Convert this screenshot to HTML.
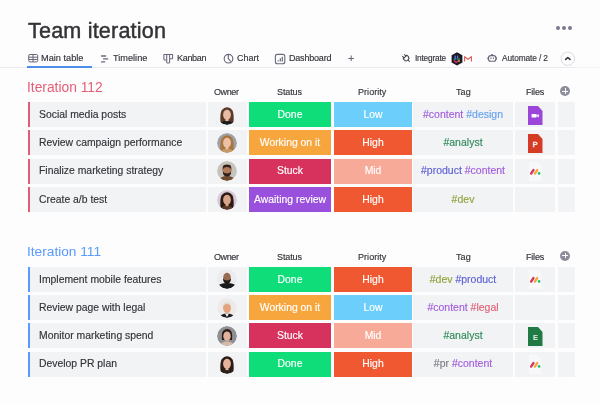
<!DOCTYPE html>
<html><head><meta charset="utf-8"><style>
*{margin:0;padding:0;box-sizing:border-box}
html,body{width:600px;height:404px;overflow:hidden;background:#fdfdfe;font-family:"Liberation Sans",sans-serif;color:#323338}
.a{position:absolute;display:block}
.t{position:absolute;line-height:1;white-space:nowrap;-webkit-text-stroke:0.15px currentColor;will-change:transform}
.dots{position:absolute;top:26px;width:4.2px;height:4.2px;border-radius:50%;background:#7b7990}
.sep{position:absolute;left:0;top:67px;width:576px;height:1px;background:#e9ebf0}
.ul{position:absolute;left:27px;top:66px;width:65px;height:2px;background:#4b8fe8}
.plus{position:absolute;left:560.2px;width:10.2px;height:10.2px;border-radius:50%;background:#8e8d9b}
.plus:before{content:"";position:absolute;left:2.3px;top:4.55px;width:5.6px;height:1.1px;background:#fff}
.plus:after{content:"";position:absolute;left:4.55px;top:2.3px;width:1.1px;height:5.6px;background:#fff}
.c{position:absolute;height:25px;background:#f2f3f5}
.bar{position:absolute;left:28.2px;width:2.3px;height:25px}
.av{position:absolute;left:216.8px;width:20px;height:20px;border-radius:50%;overflow:hidden}
.av svg{display:block}
</style></head><body><div id="w" style="position:absolute;left:0;top:0;width:600px;height:404px;filter:blur(0.25px)">
<div class="t" style="left:27.9px;top:19.72px;font-size:21.6px;color:#333336;-webkit-text-stroke:0.45px currentColor;letter-spacing:0.18px">Team iteration</div>
<div class="dots" style="left:556px"></div><div class="dots" style="left:562px"></div><div class="dots" style="left:567.8px"></div>
<div class="sep"></div><div class="sep" style="left:576px;width:24px;background:#f1f2f6"></div><div class="ul"></div>

<svg class="a" style="left:27px;top:53px" width="12" height="10" viewBox="0 0 12 10" fill="none" stroke="#676879" stroke-width="1">
 <rect x="1.7" y="1.5" width="9" height="7.4" rx="1.3"/><line x1="1.7" y1="4.2" x2="10.7" y2="4.2"/><line x1="1.7" y1="6.5" x2="10.7" y2="6.5"/><line x1="6" y1="1.5" x2="6" y2="8.9"/></svg>
<svg class="a" style="left:99px;top:53px" width="12" height="11" viewBox="0 0 12 11" stroke="#676879" stroke-width="1.4" stroke-linecap="round">
 <line x1="2.6" y1="3" x2="6.6" y2="3"/><line x1="4.6" y1="5.9" x2="8.6" y2="5.9"/><line x1="2.6" y1="8.9" x2="5.6" y2="8.9"/></svg>
<svg class="a" style="left:162px;top:53px" width="12" height="11" viewBox="0 0 12 11" fill="none" stroke="#676879" stroke-width="1.05" stroke-linejoin="round">
 <path d="M1.9 1.4H10.6V5.2Q10.6 5.8 10 5.8H7.6V9.3Q7.6 9.9 7 9.9H5.3Q4.7 9.9 4.7 9.3V6.9H2.5Q1.9 6.9 1.9 6.3Z"/><line x1="4.7" y1="1.4" x2="4.7" y2="6.9"/><line x1="7.6" y1="1.4" x2="7.6" y2="5.8"/></svg>
<svg class="a" style="left:223px;top:53px" width="11" height="11" viewBox="0 0 11 11" fill="none" stroke="#676879" stroke-width="1.15" stroke-linecap="round">
 <circle cx="5.5" cy="5.7" r="4.3"/><path d="M5.3 1.6V5.6L7.4 8.1"/></svg>
<svg class="a" style="left:274px;top:53px" width="12" height="12" viewBox="0 0 12 12" fill="none" stroke="#676879" stroke-width="1.1">
 <rect x="1.4" y="1.4" width="9.4" height="9.4" rx="2"/><line x1="4.2" y1="8.6" x2="4.2" y2="7.3" stroke-width="1.2"/><line x1="6.3" y1="8.6" x2="6.3" y2="5.2" stroke-width="1.2"/><line x1="8.3" y1="8.6" x2="8.3" y2="3.8" stroke-width="1.2"/></svg>
<svg class="a" style="left:400px;top:52px" width="12" height="12" viewBox="0 0 12 12" fill="none" stroke="#3c3d45" stroke-width="0.95" stroke-linecap="round">
 <g transform="rotate(-45 6 6)"><path d="M3.4 4.6H8.6V6.4Q8.6 8.8 6 8.8Q3.4 8.8 3.4 6.4Z"/><line x1="4.7" y1="2.4" x2="4.7" y2="4.6"/><line x1="7.3" y1="2.4" x2="7.3" y2="4.6"/><line x1="6" y1="8.8" x2="6" y2="10.8"/></g></svg>
<svg class="a" style="left:451px;top:51.5px" width="12" height="14" viewBox="0 0 12 14">
 <path d="M6 0.3L11.4 3.3V10.5L6 13.6L0.6 10.5V3.3Z" fill="#1c1b24"/><rect x="3.6" y="3.6" width="1.2" height="2.4" fill="#5c7cf0"/><rect x="6" y="3.6" width="1.2" height="2.4" fill="#5c7cf0"/><rect x="2.8" y="6.4" width="2.6" height="1.2" fill="#49a6f0"/><rect x="6.2" y="6.4" width="2.6" height="1.2" fill="#2dbf6a"/><path d="M2.8 8.2L5.2 10.4L8.6 8.2" stroke="#d7305e" stroke-width="1.3" fill="none"/><rect x="7" y="8.6" width="2" height="1" fill="#f2b63b"/></svg>
<svg class="a" style="left:463px;top:55px" width="10" height="8" viewBox="0 0 10 8" fill="none" stroke="#e25a50" stroke-width="1.1" stroke-linejoin="round">
 <path d="M1.6 6.6V1.6L5 4.3L8.4 1.6V6.6"/></svg>
<svg class="a" style="left:486px;top:53px" width="12" height="10" viewBox="0 0 12 10" fill="none" stroke="#676879" stroke-width="1.1">
 <rect x="2.5" y="2.6" width="7.4" height="5.6" rx="2.3"/><path d="M2.5 4.4Q1.2 5.4 2.5 6.4" /><path d="M9.9 4.4Q11.2 5.4 9.9 6.4"/><line x1="5" y1="4.6" x2="5" y2="5.9"/><line x1="7.4" y1="4.6" x2="7.4" y2="5.9"/><line x1="5.4" y1="1.5" x2="7" y2="1.5"/></svg>
<svg class="a" style="left:560px;top:51px" width="16" height="16" viewBox="0 0 16 16" fill="none">
 <circle cx="7.8" cy="7.7" r="6.7" stroke="#d5d5dc" stroke-width="0.9"/><path d="M5.6 8.4L7.8 6.5L10 8.4" stroke="#323338" stroke-width="1.5" stroke-linecap="round" stroke-linejoin="round"/></svg>

<div class="t" style="left:41.2px;top:53.71px;font-size:9.2px;color:#323338;">Main table</div>
<div class="t" style="left:112.8px;top:53.71px;font-size:9.2px;color:#323338;">Timeline</div>
<div class="t" style="left:176.7px;top:53.88px;font-size:9.0px;color:#323338;letter-spacing:-0.3px">Kanban</div>
<div class="t" style="left:237px;top:53.88px;font-size:9.0px;color:#323338;">Chart</div>
<div class="t" style="left:288.7px;top:53.88px;font-size:9.0px;color:#323338;letter-spacing:-0.2px">Dashboard</div>
<div class="t" style="left:347.5px;top:52.69px;font-size:11px;color:#676879;">+</div>
<div class="t" style="left:415px;top:54.47px;font-size:8.3px;color:#323338;letter-spacing:-0.2px">Integrate</div>
<div class="t" style="left:501.7px;top:54.47px;font-size:8.3px;color:#323338;letter-spacing:-0.1px">Automate / 2</div>
<div class="t" style="left:27.4px;top:80.52px;font-size:13.8px;color:#e45d76;-webkit-text-stroke:0">Iteration 112</div>
<div class="t" style="left:214.3px;top:88.38px;font-size:9.0px;color:#323338;letter-spacing:-0.4px">Owner</div>
<div class="t" style="left:277.2px;top:88.38px;font-size:9.0px;color:#323338;letter-spacing:-0.1px">Status</div>
<div class="t" style="left:358.2px;top:88.38px;font-size:9.0px;color:#323338;letter-spacing:0.05px">Priority</div>
<div class="t" style="left:455.8px;top:88.38px;font-size:9.0px;color:#323338;letter-spacing:0.1px">Tag</div>
<div class="t" style="left:525.8px;top:88.38px;font-size:9.0px;color:#323338;letter-spacing:-0.2px">Files</div>
<div class="plus" style="top:86.10px"></div>
<div class="c" style="top:102.00px;left:28px;width:178.3px"></div>
<div class="bar" style="top:102.00px;background:#e45d76"></div>
<div class="t" style="left:38.7px;top:109.70px;font-size:10.4px;color:#323338;transform:scaleY(1.05);transform-origin:0 8.80px;">Social media posts</div>
<div class="c" style="top:102.00px;left:208px;width:38.5px"></div>
<div class="av" style="top:104.50px"><svg width="20" height="20" viewBox="0 0 20 20"><defs><clipPath id="c0"><circle cx="10" cy="10" r="10"/></clipPath></defs><g clip-path="url(#c0)"><rect width="20" height="20" fill="#f3f3f5"/><path d="M3.6 18Q2.6 9 4.6 5.2Q7.2 2.2 10 2.3Q13.2 2.2 15.4 5.2Q17.4 9 16.4 18Z" fill="#5a3a28"/><path d="M2 21Q4 15.8 10 15.8Q16 15.8 18 21Z" fill="#1d1d20"/><ellipse cx="10" cy="9.8" rx="3.9" ry="5" fill="#e9bba2"/><rect x="8.5" y="13.5" width="3" height="2.6" fill="#e9bba2"/></g></svg></div>
<div class="c" style="top:102.00px;left:249px;width:81.8px;background:#0fdd7a"></div>
<div class="t" style="left:190px;width:200px;text-align:center;top:109.70px;font-size:10.4px;color:#fff;transform:scaleY(1.05);transform-origin:50% 8.80px;">Done</div>
<div class="c" style="top:102.00px;left:333.5px;width:78.2px;background:#6ccefa"></div>
<div class="t" style="left:272.6px;width:200px;text-align:center;top:109.70px;font-size:10.4px;color:#fff;transform:scaleY(1.05);transform-origin:50% 8.80px;">Low</div>
<div class="c" style="top:102.00px;left:413px;width:100.3px"></div>
<div class="t" style="left:363.3px;width:200px;text-align:center;top:108.71px;font-size:10.5px;color:#323338;transform:scaleY(1.05);transform-origin:50% 8.89px;"><span style="color:#a25ddc">#content</span> <span style="color:#68a1ee">#design</span></div>
<div class="c" style="top:102.00px;left:514.8px;width:40.7px"></div>
<svg class="a" style="left:527.8px;top:106.00px" width="15" height="19" viewBox="0 0 15 19"><path d="M0 0H10L14.5 5V19H0Z" fill="#9c46d9"/><rect x="3.6" y="8" width="5" height="3.6" rx="0.6" fill="#fff"/><path d="M8.2 9.8L10.8 8.1V11.5Z" fill="#fff"/></svg>
<div class="c" style="top:102.00px;left:557.5px;width:17.5px"></div>
<div class="c" style="top:130.37px;left:28px;width:178.3px"></div>
<div class="bar" style="top:130.37px;background:#e45d76"></div>
<div class="t" style="left:38.7px;top:138.07px;font-size:10.4px;color:#323338;transform:scaleY(1.05);transform-origin:0 8.80px;">Review campaign performance</div>
<div class="c" style="top:130.37px;left:208px;width:38.5px"></div>
<div class="av" style="top:132.87px"><svg width="20" height="20" viewBox="0 0 20 20"><defs><clipPath id="c1"><circle cx="10" cy="10" r="10"/></clipPath></defs><g clip-path="url(#c1)"><rect width="20" height="20" fill="#9ea2a8"/><path d="M3.6 18Q2.6 9 4.6 5.2Q7.2 2.2 10 2.3Q13.2 2.2 15.4 5.2Q17.4 9 16.4 18Z" fill="#a8773f"/><path d="M2 21Q4 15.8 10 15.8Q16 15.8 18 21Z" fill="#c89a6a"/><ellipse cx="10" cy="9.8" rx="3.9" ry="5" fill="#ecc0a4"/><rect x="8.5" y="13.5" width="3" height="2.6" fill="#ecc0a4"/></g></svg></div>
<div class="c" style="top:130.37px;left:249px;width:81.8px;background:#f7a63d"></div>
<div class="t" style="left:190px;width:200px;text-align:center;top:138.07px;font-size:10.4px;color:#fff;transform:scaleY(1.05);transform-origin:50% 8.80px;">Working on it</div>
<div class="c" style="top:130.37px;left:333.5px;width:78.2px;background:#ef5831"></div>
<div class="t" style="left:272.6px;width:200px;text-align:center;top:138.07px;font-size:10.4px;color:#fff;transform:scaleY(1.05);transform-origin:50% 8.80px;">High</div>
<div class="c" style="top:130.37px;left:413px;width:100.3px"></div>
<div class="t" style="left:363.3px;width:200px;text-align:center;top:137.08px;font-size:10.5px;color:#323338;transform:scaleY(1.05);transform-origin:50% 8.89px;"><span style="color:#2f8a5b">#analyst</span></div>
<div class="c" style="top:130.37px;left:514.8px;width:40.7px"></div>
<svg class="a" style="left:527.8px;top:134.37px" width="15" height="19" viewBox="0 0 15 19"><path d="M0 0H10L14.5 5V19H0Z" fill="#d63c25"/><text x="7.3" y="12.6" font-size="7.4" fill="#fff" stroke="#fff" stroke-width="0.3" text-anchor="middle" font-family="Liberation Sans">P</text></svg>
<div class="c" style="top:130.37px;left:557.5px;width:17.5px"></div>
<div class="c" style="top:158.74px;left:28px;width:178.3px"></div>
<div class="bar" style="top:158.74px;background:#e45d76"></div>
<div class="t" style="left:38.7px;top:166.44px;font-size:10.4px;color:#323338;transform:scaleY(1.05);transform-origin:0 8.80px;">Finalize marketing strategy</div>
<div class="c" style="top:158.74px;left:208px;width:38.5px"></div>
<div class="av" style="top:161.24px"><svg width="20" height="20" viewBox="0 0 20 20"><defs><clipPath id="c2"><circle cx="10" cy="10" r="10"/></clipPath></defs><g clip-path="url(#c2)"><rect width="20" height="20" fill="#c8c2bc"/><path d="M1 21Q3 15 10 15Q17 15 19 21Z" fill="#6e4a30"/><ellipse cx="10" cy="9.8" rx="4.4" ry="5.4" fill="#b07a58"/><path d="M5.6 9.5Q6 6 10 6Q14 6 14.4 9.5Q14.6 5 13 4Q10 2.8 7 4Q5.4 5 5.6 9.5Z" fill="#2e1f18"/><path d="M5.8 10.5Q6 15.4 10 15.6Q14 15.4 14.2 10.5Q13 12.4 10 12.4Q7 12.4 5.8 10.5Z" fill="#2e1f18"/></g></svg></div>
<div class="c" style="top:158.74px;left:249px;width:81.8px;background:#d7325e"></div>
<div class="t" style="left:190px;width:200px;text-align:center;top:166.44px;font-size:10.4px;color:#fff;transform:scaleY(1.05);transform-origin:50% 8.80px;">Stuck</div>
<div class="c" style="top:158.74px;left:333.5px;width:78.2px;background:#f8aa98"></div>
<div class="t" style="left:272.6px;width:200px;text-align:center;top:166.44px;font-size:10.4px;color:#fff;transform:scaleY(1.05);transform-origin:50% 8.80px;">Mid</div>
<div class="c" style="top:158.74px;left:413px;width:100.3px"></div>
<div class="t" style="left:363.3px;width:200px;text-align:center;top:165.45px;font-size:10.5px;color:#323338;transform:scaleY(1.05);transform-origin:50% 8.89px;"><span style="color:#5d5fd4">#product</span> <span style="color:#a25ddc">#content</span></div>
<div class="c" style="top:158.74px;left:514.8px;width:40.7px"></div>
<svg class="a" style="left:528px;top:162.24px" width="14" height="19" viewBox="0 0 14 19"><path d="M1 0H9.5L13.5 4V19H1Z" fill="#f8f8fa"/><g transform="translate(1.8,6.8)"><line x1="1.3" y1="4.8" x2="3.6" y2="1.3" stroke="#d8335f" stroke-width="2.4" stroke-linecap="round"/><line x1="5.1" y1="4.8" x2="7.4" y2="1.3" stroke="#f6a93a" stroke-width="2.4" stroke-linecap="round"/><circle cx="9.3" cy="4.6" r="1.3" fill="#11c473"/></g></svg>
<div class="c" style="top:158.74px;left:557.5px;width:17.5px"></div>
<div class="c" style="top:187.11px;left:28px;width:178.3px"></div>
<div class="bar" style="top:187.11px;background:#e45d76"></div>
<div class="t" style="left:38.7px;top:194.81px;font-size:10.4px;color:#323338;transform:scaleY(1.05);transform-origin:0 8.80px;">Create a/b test</div>
<div class="c" style="top:187.11px;left:208px;width:38.5px"></div>
<div class="av" style="top:189.61px"><svg width="20" height="20" viewBox="0 0 20 20"><defs><clipPath id="c3"><circle cx="10" cy="10" r="10"/></clipPath></defs><g clip-path="url(#c3)"><rect width="20" height="20" fill="#d9c9d8"/><path d="M3.6 18Q2.6 9 4.6 5.2Q7.2 2.2 10 2.3Q13.2 2.2 15.4 5.2Q17.4 9 16.4 18Z" fill="#2a1b15"/><path d="M2 21Q4 15.8 10 15.8Q16 15.8 18 21Z" fill="#5a3b2a"/><ellipse cx="10" cy="9.8" rx="3.9" ry="5" fill="#d9a487"/><rect x="8.5" y="13.5" width="3" height="2.6" fill="#d9a487"/></g></svg></div>
<div class="c" style="top:187.11px;left:249px;width:81.8px;background:#9850dd"></div>
<div class="t" style="left:190px;width:200px;text-align:center;top:194.81px;font-size:10.4px;color:#fff;transform:scaleY(1.05);transform-origin:50% 8.80px;">Awaiting review</div>
<div class="c" style="top:187.11px;left:333.5px;width:78.2px;background:#ef5831"></div>
<div class="t" style="left:272.6px;width:200px;text-align:center;top:194.81px;font-size:10.4px;color:#fff;transform:scaleY(1.05);transform-origin:50% 8.80px;">High</div>
<div class="c" style="top:187.11px;left:413px;width:100.3px"></div>
<div class="t" style="left:363.3px;width:200px;text-align:center;top:193.82px;font-size:10.5px;color:#323338;transform:scaleY(1.05);transform-origin:50% 8.89px;"><span style="color:#8ea53c">#dev</span></div>
<div class="c" style="top:187.11px;left:514.8px;width:40.7px"></div>

<div class="c" style="top:187.11px;left:557.5px;width:17.5px"></div>
<div class="t" style="left:27.4px;top:245.10px;font-size:13.7px;color:#579bfc;-webkit-text-stroke:0">Iteration 111</div>
<div class="t" style="left:214.3px;top:252.88px;font-size:9.0px;color:#323338;letter-spacing:-0.4px">Owner</div>
<div class="t" style="left:277.2px;top:252.88px;font-size:9.0px;color:#323338;letter-spacing:-0.1px">Status</div>
<div class="t" style="left:358.2px;top:252.88px;font-size:9.0px;color:#323338;letter-spacing:0.05px">Priority</div>
<div class="t" style="left:455.8px;top:252.88px;font-size:9.0px;color:#323338;letter-spacing:0.1px">Tag</div>
<div class="t" style="left:525.8px;top:252.88px;font-size:9.0px;color:#323338;letter-spacing:-0.2px">Files</div>
<div class="plus" style="top:250.60px"></div>
<div class="c" style="top:266.90px;left:28px;width:178.3px"></div>
<div class="bar" style="top:266.90px;background:#579bfc"></div>
<div class="t" style="left:38.7px;top:274.60px;font-size:10.4px;color:#323338;transform:scaleY(1.05);transform-origin:0 8.80px;">Implement mobile features</div>
<div class="c" style="top:266.90px;left:208px;width:38.5px"></div>
<div class="av" style="top:269.40px"><svg width="20" height="20" viewBox="0 0 20 20"><defs><clipPath id="c4"><circle cx="10" cy="10" r="10"/></clipPath></defs><g clip-path="url(#c4)"><rect width="20" height="20" fill="#ececee"/><path d="M-1 21Q0 14.2 10 14Q20 14.2 21 21Z" fill="#1a1a1c"/><ellipse cx="10" cy="8.8" rx="3.8" ry="5" fill="#9a6a50"/><path d="M6 9.2Q6.2 14.6 10 14.8Q13.8 14.6 14 9.2Q12.8 11.6 10 11.6Q7.2 11.6 6 9.2Z" fill="#1f1a18"/></g></svg></div>
<div class="c" style="top:266.90px;left:249px;width:81.8px;background:#0fdd7a"></div>
<div class="t" style="left:190px;width:200px;text-align:center;top:274.60px;font-size:10.4px;color:#fff;transform:scaleY(1.05);transform-origin:50% 8.80px;">Done</div>
<div class="c" style="top:266.90px;left:333.5px;width:78.2px;background:#ef5831"></div>
<div class="t" style="left:272.6px;width:200px;text-align:center;top:274.60px;font-size:10.4px;color:#fff;transform:scaleY(1.05);transform-origin:50% 8.80px;">High</div>
<div class="c" style="top:266.90px;left:413px;width:100.3px"></div>
<div class="t" style="left:363.3px;width:200px;text-align:center;top:273.61px;font-size:10.5px;color:#323338;transform:scaleY(1.05);transform-origin:50% 8.89px;"><span style="color:#8ea53c">#dev</span> <span style="color:#5d5fd4">#product</span></div>
<div class="c" style="top:266.90px;left:514.8px;width:40.7px"></div>
<svg class="a" style="left:528px;top:270.40px" width="14" height="19" viewBox="0 0 14 19"><path d="M1 0H9.5L13.5 4V19H1Z" fill="#f8f8fa"/><g transform="translate(1.8,6.8)"><line x1="1.3" y1="4.8" x2="3.6" y2="1.3" stroke="#d8335f" stroke-width="2.4" stroke-linecap="round"/><line x1="5.1" y1="4.8" x2="7.4" y2="1.3" stroke="#f6a93a" stroke-width="2.4" stroke-linecap="round"/><circle cx="9.3" cy="4.6" r="1.3" fill="#11c473"/></g></svg>
<div class="c" style="top:266.90px;left:557.5px;width:17.5px"></div>
<div class="c" style="top:295.13px;left:28px;width:178.3px"></div>
<div class="bar" style="top:295.13px;background:#579bfc"></div>
<div class="t" style="left:38.7px;top:302.83px;font-size:10.4px;color:#323338;transform:scaleY(1.05);transform-origin:0 8.80px;">Review page with legal</div>
<div class="c" style="top:295.13px;left:208px;width:38.5px"></div>
<div class="av" style="top:297.63px"><svg width="20" height="20" viewBox="0 0 20 20"><defs><clipPath id="c5"><circle cx="10" cy="10" r="10"/></clipPath></defs><g clip-path="url(#c5)"><rect width="20" height="20" fill="#eeeae8"/><path d="M1 21Q3 15.5 10 15.5Q17 15.5 19 21Z" fill="#1e1e22"/><path d="M8 15.5L10 19L12 15.5Z" fill="#f4f4f4"/><ellipse cx="10" cy="9.8" rx="4" ry="5.2" fill="#e3a57f"/><path d="M6 8Q6.2 4.2 10 4Q13.8 4.2 14 8Q12.5 6 10 6Q7.5 6 6 8Z" fill="#e4ddd8"/></g></svg></div>
<div class="c" style="top:295.13px;left:249px;width:81.8px;background:#f7a63d"></div>
<div class="t" style="left:190px;width:200px;text-align:center;top:302.83px;font-size:10.4px;color:#fff;transform:scaleY(1.05);transform-origin:50% 8.80px;">Working on it</div>
<div class="c" style="top:295.13px;left:333.5px;width:78.2px;background:#6ccefa"></div>
<div class="t" style="left:272.6px;width:200px;text-align:center;top:302.83px;font-size:10.4px;color:#fff;transform:scaleY(1.05);transform-origin:50% 8.80px;">Low</div>
<div class="c" style="top:295.13px;left:413px;width:100.3px"></div>
<div class="t" style="left:363.3px;width:200px;text-align:center;top:301.84px;font-size:10.5px;color:#323338;transform:scaleY(1.05);transform-origin:50% 8.89px;"><span style="color:#a25ddc">#content</span> <span style="color:#e0637a">#legal</span></div>
<div class="c" style="top:295.13px;left:514.8px;width:40.7px"></div>

<div class="c" style="top:295.13px;left:557.5px;width:17.5px"></div>
<div class="c" style="top:323.36px;left:28px;width:178.3px"></div>
<div class="bar" style="top:323.36px;background:#579bfc"></div>
<div class="t" style="left:38.7px;top:331.06px;font-size:10.4px;color:#323338;transform:scaleY(1.05);transform-origin:0 8.80px;">Monitor marketing spend</div>
<div class="c" style="top:323.36px;left:208px;width:38.5px"></div>
<div class="av" style="top:325.86px"><svg width="20" height="20" viewBox="0 0 20 20"><defs><clipPath id="c6"><circle cx="10" cy="10" r="10"/></clipPath></defs><g clip-path="url(#c6)"><rect width="20" height="20" fill="#8f9094"/><path d="M2 21Q4 15.5 10 15.5Q16 15.5 18 21Z" fill="#d8b8a8"/><path d="M5 14Q4.4 7 6 5Q8 3 10 3Q12.6 3 14 5Q15.6 7 15 14Z" fill="#2a1d17"/><ellipse cx="10" cy="10.2" rx="3.7" ry="4.8" fill="#e2b39c"/></g></svg></div>
<div class="c" style="top:323.36px;left:249px;width:81.8px;background:#d7325e"></div>
<div class="t" style="left:190px;width:200px;text-align:center;top:331.06px;font-size:10.4px;color:#fff;transform:scaleY(1.05);transform-origin:50% 8.80px;">Stuck</div>
<div class="c" style="top:323.36px;left:333.5px;width:78.2px;background:#f8aa98"></div>
<div class="t" style="left:272.6px;width:200px;text-align:center;top:331.06px;font-size:10.4px;color:#fff;transform:scaleY(1.05);transform-origin:50% 8.80px;">Mid</div>
<div class="c" style="top:323.36px;left:413px;width:100.3px"></div>
<div class="t" style="left:363.3px;width:200px;text-align:center;top:330.07px;font-size:10.5px;color:#323338;transform:scaleY(1.05);transform-origin:50% 8.89px;"><span style="color:#2f8a5b">#analyst</span></div>
<div class="c" style="top:323.36px;left:514.8px;width:40.7px"></div>
<svg class="a" style="left:527.8px;top:327.36px" width="15" height="19" viewBox="0 0 15 19"><path d="M0 0H10L14.5 5V19H0Z" fill="#1f7a43"/><text x="7.3" y="12.6" font-size="7.2" fill="#fff" stroke="#fff" stroke-width="0.2" text-anchor="middle" font-family="Liberation Sans">E</text></svg>
<div class="c" style="top:323.36px;left:557.5px;width:17.5px"></div>
<div class="c" style="top:351.59px;left:28px;width:178.3px"></div>
<div class="bar" style="top:351.59px;background:#579bfc"></div>
<div class="t" style="left:38.7px;top:359.29px;font-size:10.4px;color:#323338;transform:scaleY(1.05);transform-origin:0 8.80px;">Develop PR plan</div>
<div class="c" style="top:351.59px;left:208px;width:38.5px"></div>
<div class="av" style="top:354.09px"><svg width="20" height="20" viewBox="0 0 20 20"><defs><clipPath id="c7"><circle cx="10" cy="10" r="10"/></clipPath></defs><g clip-path="url(#c7)"><rect width="20" height="20" fill="#f2f2f4"/><path d="M3.6 18Q2.6 9 4.6 5.2Q7.2 2.2 10 2.3Q13.2 2.2 15.4 5.2Q17.4 9 16.4 18Z" fill="#2b1d17"/><path d="M2 21Q4 15.8 10 15.8Q16 15.8 18 21Z" fill="#2d211b"/><ellipse cx="10" cy="9.8" rx="3.9" ry="5" fill="#e6b39a"/><rect x="8.5" y="13.5" width="3" height="2.6" fill="#e6b39a"/></g></svg></div>
<div class="c" style="top:351.59px;left:249px;width:81.8px;background:#0fdd7a"></div>
<div class="t" style="left:190px;width:200px;text-align:center;top:359.29px;font-size:10.4px;color:#fff;transform:scaleY(1.05);transform-origin:50% 8.80px;">Done</div>
<div class="c" style="top:351.59px;left:333.5px;width:78.2px;background:#ef5831"></div>
<div class="t" style="left:272.6px;width:200px;text-align:center;top:359.29px;font-size:10.4px;color:#fff;transform:scaleY(1.05);transform-origin:50% 8.80px;">High</div>
<div class="c" style="top:351.59px;left:413px;width:100.3px"></div>
<div class="t" style="left:363.3px;width:200px;text-align:center;top:358.30px;font-size:10.5px;color:#323338;transform:scaleY(1.05);transform-origin:50% 8.89px;"><span style="color:#7a7a80">#pr</span> <span style="color:#a25ddc">#content</span></div>
<div class="c" style="top:351.59px;left:514.8px;width:40.7px"></div>
<svg class="a" style="left:528px;top:355.09px" width="14" height="19" viewBox="0 0 14 19"><path d="M1 0H9.5L13.5 4V19H1Z" fill="#f8f8fa"/><g transform="translate(1.8,6.8)"><line x1="1.3" y1="4.8" x2="3.6" y2="1.3" stroke="#d8335f" stroke-width="2.4" stroke-linecap="round"/><line x1="5.1" y1="4.8" x2="7.4" y2="1.3" stroke="#f6a93a" stroke-width="2.4" stroke-linecap="round"/><circle cx="9.3" cy="4.6" r="1.3" fill="#11c473"/></g></svg>
<div class="c" style="top:351.59px;left:557.5px;width:17.5px"></div>
</div></body></html>
